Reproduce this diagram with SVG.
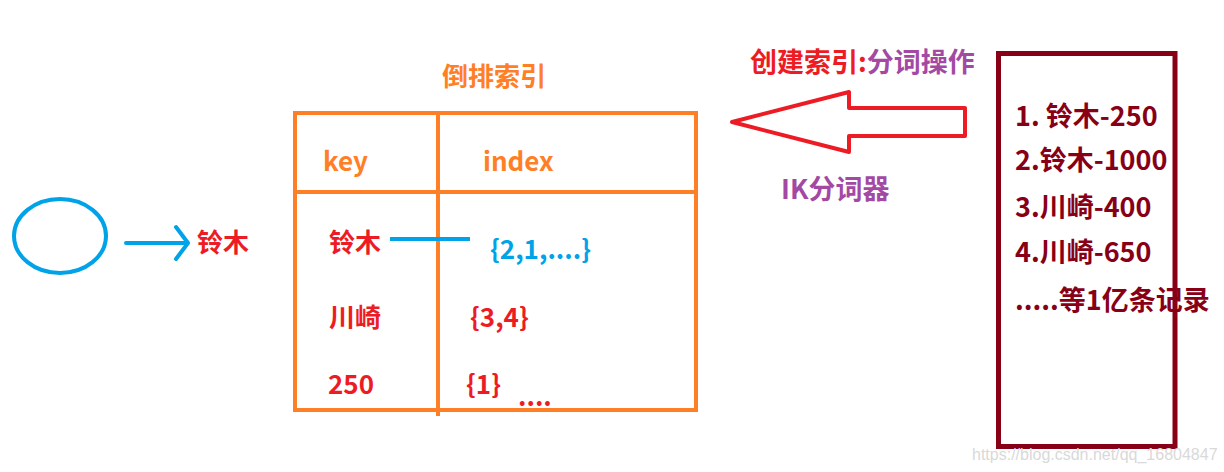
<svg xmlns="http://www.w3.org/2000/svg" width="1224" height="472" viewBox="0 0 1224 472">
<style>
text{font-family:"Noto Sans CJK SC","Noto Sans",sans-serif;font-weight:bold}
.red{fill:#ed1c24}.orange{fill:#ff7f27}.blue{fill:#00a2e8}.purple{fill:#a349a4}.dark{fill:#880015}
.s26{font-size:26px}.s27{font-size:27px}
</style>
<rect width="1224" height="472" fill="#ffffff"/>
<g id="circle-node">
<ellipse cx="60" cy="236" rx="46" ry="37" fill="none" stroke="#00a2e8" stroke-width="4"/>
</g>
<g id="term-node">
<text x="197" y="252" class="red s26">铃木</text>
</g>
<g id="table-node">
<text x="442" y="86" class="orange s26">倒排索引</text>
<rect x="295" y="113" width="401" height="297" fill="none" stroke="#ff7f27" stroke-width="4"/>
<line x1="438" y1="113" x2="438" y2="416" stroke="#ff7f27" stroke-width="4"/>
<line x1="295" y1="192" x2="696" y2="192" stroke="#ff7f27" stroke-width="4"/>
<text x="323" y="171" class="orange s26">key</text>
<text x="483" y="171" class="orange s26">index</text>
<text x="329" y="252" class="red s26">铃木</text>
<text x="490" y="259" class="blue s26">{2,1,....}</text>
<text x="329" y="327" class="red s26">川崎</text>
<text x="470" y="327" class="red s26">{3,4}</text>
<text x="328" y="394" class="red s26">250</text>
<text x="466" y="394" class="red s26">{1}</text>
<text x="518" y="406" class="red s26">....</text>
</g>
<g id="records-node">
<rect x="998.5" y="53.5" width="176.5" height="393" fill="none" stroke="#880015" stroke-width="5"/>
<text x="1015" y="126" class="dark s27">1. 铃木-250</text>
<text x="1015" y="170" class="dark s27">2.铃木-1000</text>
<text x="1015" y="217" class="dark s27">3.川崎-400</text>
<text x="1015" y="262" class="dark s27">4.川崎-650</text>
<text x="1015" y="310" class="dark s27">.....等1亿条记录</text>
</g>
<g id="connectors">
<line x1="126" y1="243" x2="186" y2="243" stroke="#00a2e8" stroke-width="4" stroke-linecap="round"/>
<polyline points="176,227 188,243 176,259" fill="none" stroke="#00a2e8" stroke-width="4" stroke-linecap="round" stroke-linejoin="round"/>
<line x1="390" y1="239" x2="470" y2="239" stroke="#00a2e8" stroke-width="4"/>
<polygon points="732,122 849,92 849,108 965,108 965,136 849,136 849,152" fill="none" stroke="#ed1c24" stroke-width="4" stroke-linejoin="round"/>
<text x="750" y="72" class="s27"><tspan class="red">创建索引:</tspan><tspan class="purple">分词操作</tspan></text>
<text x="781" y="199" class="purple s27">IK分词器</text>
</g>
<text x="972" y="460" style="font-family:'Liberation Sans',sans-serif;font-weight:normal;font-size:16px;fill:#d9d9d9">https://blog.csdn.net/qq_16804847</text>
</svg>
